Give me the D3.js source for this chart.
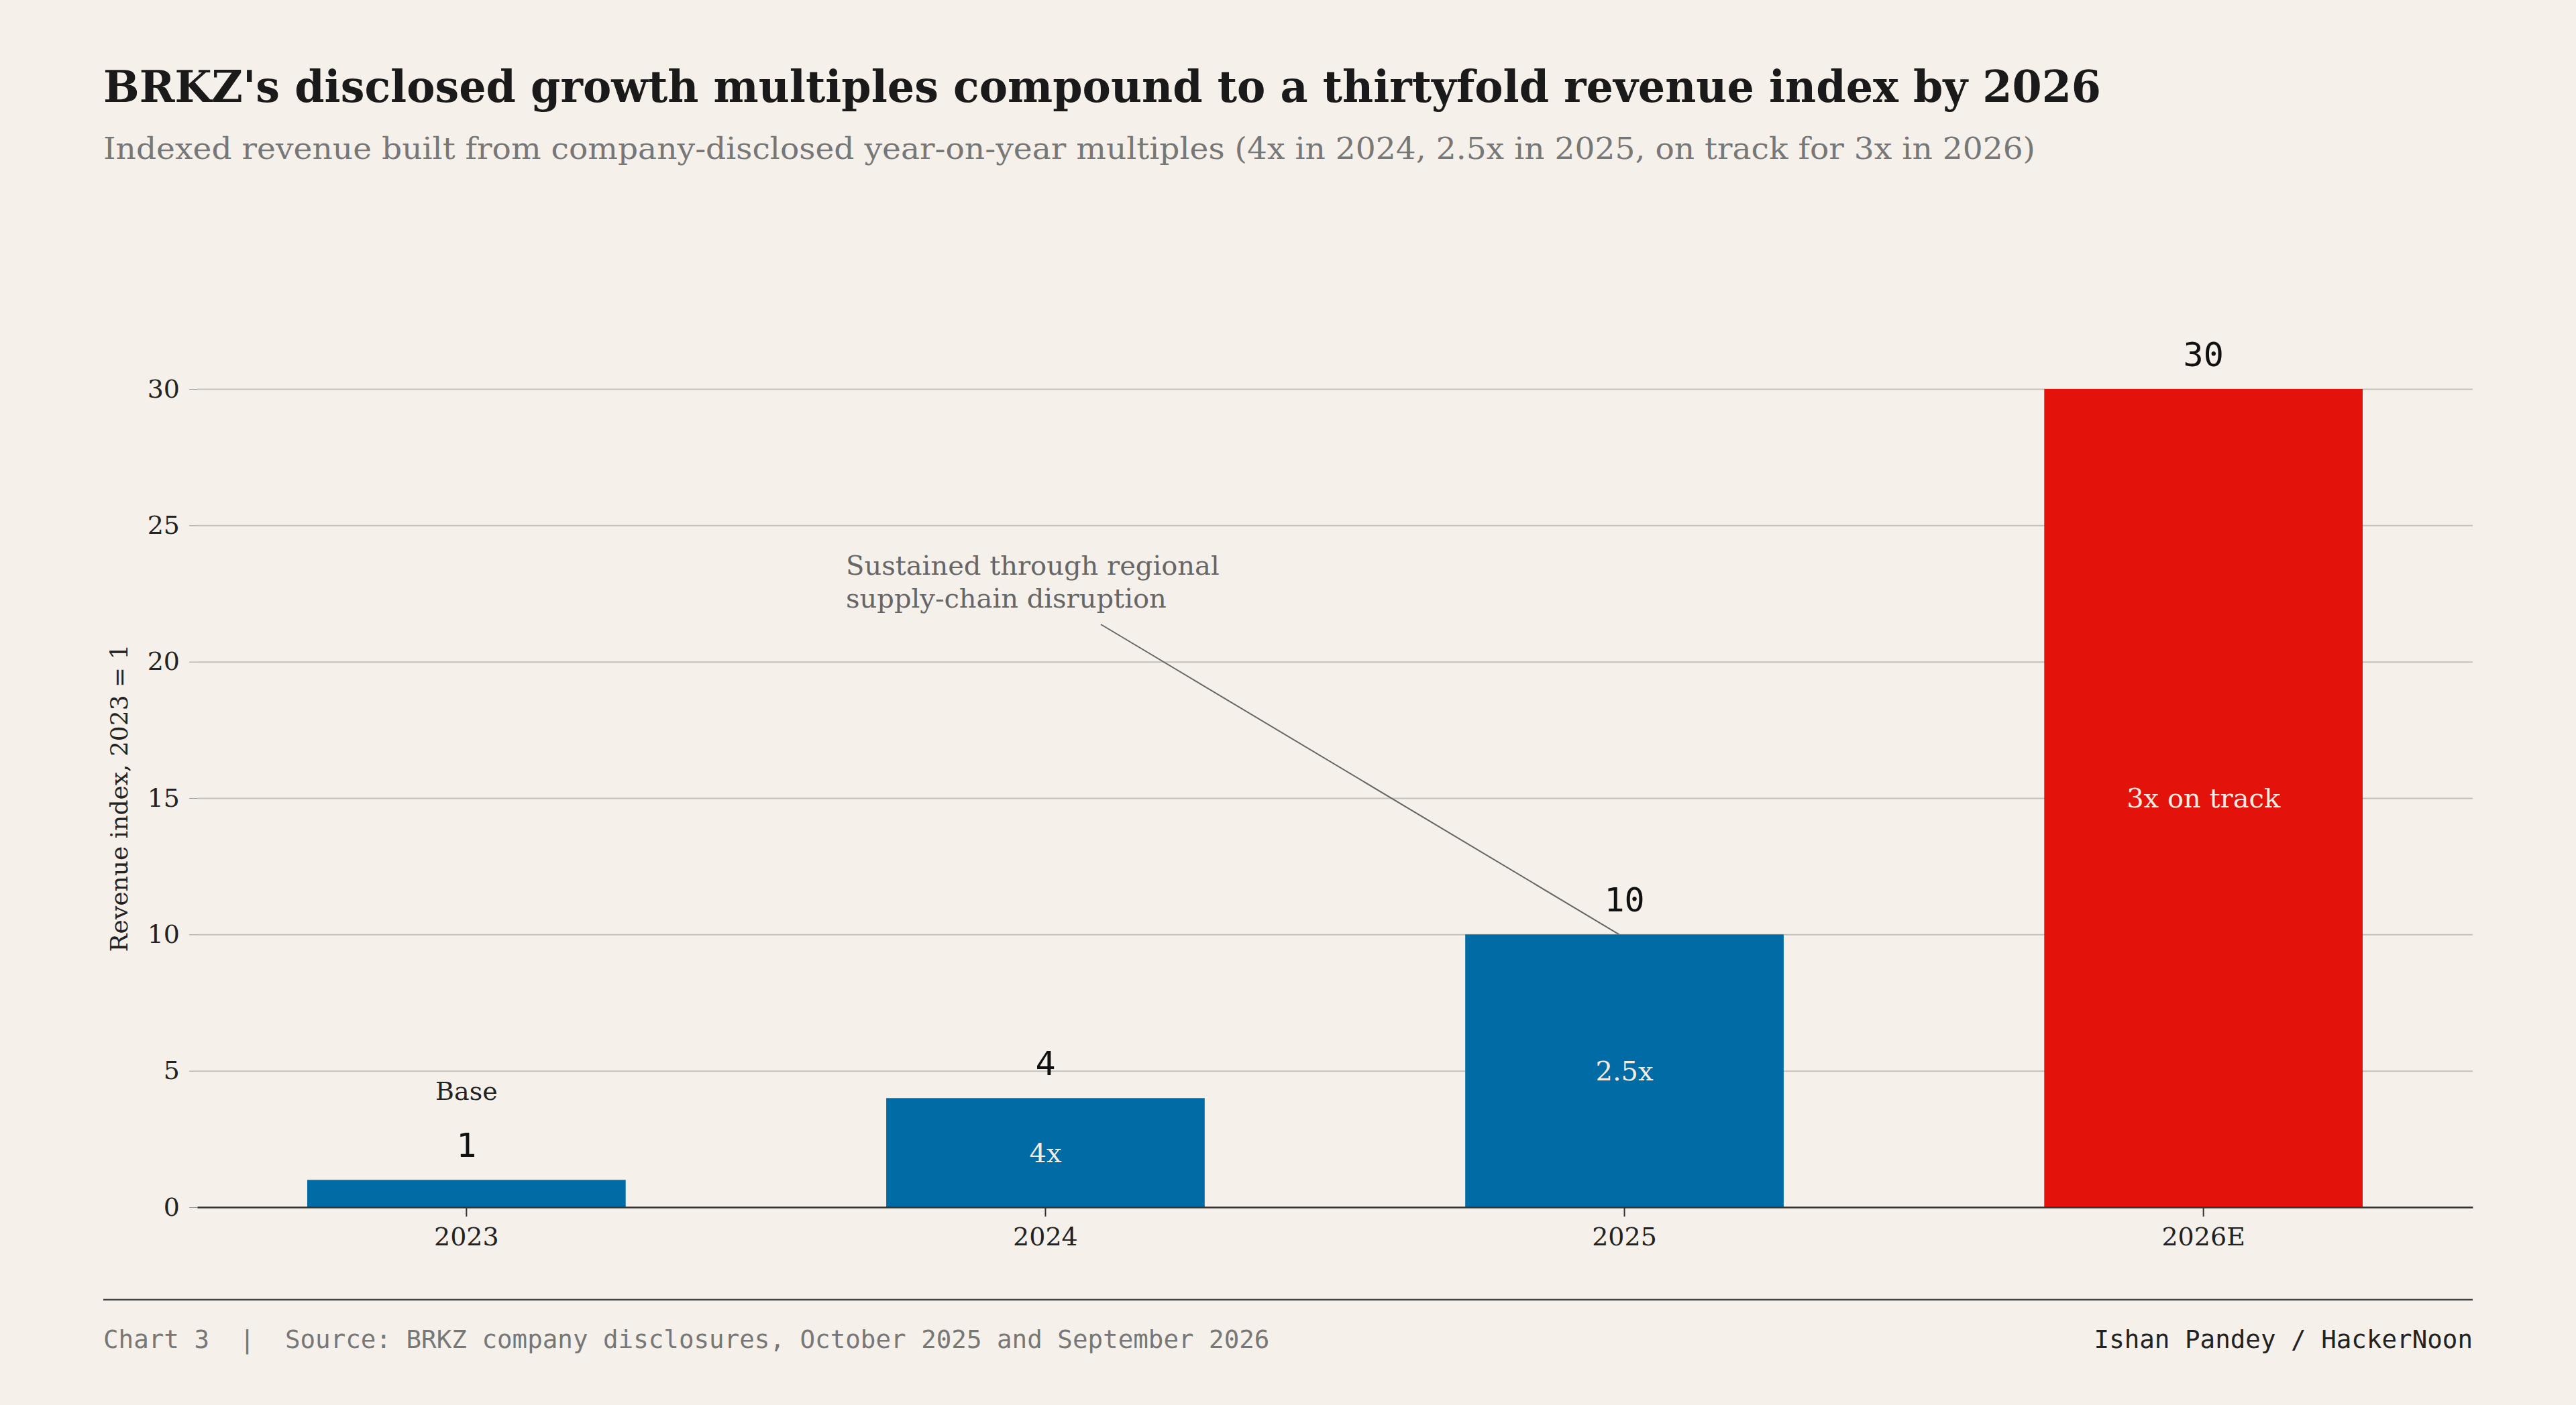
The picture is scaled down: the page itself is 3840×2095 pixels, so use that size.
<!DOCTYPE html>
<html><head><meta charset="utf-8">
<script src="https://cdn.jsdelivr.net/npm/d3@7"></script>
<style>
body{margin:0;background:#f5f0ea;}
svg{display:block;}
</style></head>
<body>
<script>
var categories = ['2023', '2024', '2025', '2026E'];
var values = [1, 4, 10, 30];
var multiples = ['', '4x', '2.5x', '3x on track'];
var colors = ['#006ba4', '#006ba4', '#006ba4', '#e3120b'];
var yTicks = [0, 5, 10, 15, 20, 25, 30];

var W = 3840, H = 2095;
var serif = '"DejaVu Serif", serif', mono = '"DejaVu Sans Mono", monospace';
var svg = d3.select('body').append('svg').attr('width', W).attr('height', H);
svg.append('rect').attr('width', W).attr('height', H).attr('fill', '#f5f0ea');

svg.append('text').attr('x', 154).attr('y', 152).attr('font-family', serif)
    .attr('font-weight', 'bold').attr('font-size', 66).attr('fill', '#1a1a1a')
    .attr('textLength', 2978).attr('lengthAdjust', 'spacingAndGlyphs')
    .text("BRKZ's disclosed growth multiples compound to a thirtyfold revenue index by 2026");
svg.append('text').attr('x', 154).attr('y', 237).attr('font-family', serif)
    .attr('font-size', 44).attr('fill', '#777')
    .attr('textLength', 2880).attr('lengthAdjust', 'spacingAndGlyphs')
    .text('Indexed revenue built from company-disclosed year-on-year multiples (4x in 2024, 2.5x in 2025, on track for 3x in 2026)');

var plotLeft = 294, plotRight = 3686, plotTop = 580, plotBottom = 1800;
var x = d3.scaleBand().domain(categories).range([plotLeft, plotRight]).paddingInner(0.45).paddingOuter(0.19);
var y = d3.scaleLinear().domain([0, 30]).range([plotBottom, plotTop]);

var gy = svg.append('g').attr('transform', 'translate(' + plotLeft + ',0)')
    .call(d3.axisLeft(y).tickValues(yTicks).tickSize(12).tickPadding(14));
gy.select('.domain').remove();
gy.selectAll('.tick line').attr('stroke', '#999');
gy.selectAll('.tick').append('line').attr('x1', 0).attr('x2', plotRight - plotLeft)
    .attr('stroke', '#c4c0ba').attr('stroke-width', 2);
gy.selectAll('.tick text').attr('font-family', serif).attr('font-size', 38).attr('fill', '#222');

svg.append('text').attr('transform', 'translate(190,' + (plotTop + plotBottom) / 2 + ') rotate(-90)')
    .attr('text-anchor', 'middle').attr('font-family', serif).attr('font-size', 36).attr('fill', '#222')
    .text('Revenue index, 2023 = 1');

svg.selectAll('.bar').data(values).enter().append('rect')
    .attr('x', function (d, i) { return x(categories[i]); })
    .attr('width', x.bandwidth())
    .attr('y', function (d) { return y(d); })
    .attr('height', function (d) { return plotBottom - y(d); })
    .attr('fill', function (d, i) { return colors[i]; });

var gx = svg.append('g').attr('transform', 'translate(0,' + plotBottom + ')')
    .call(d3.axisBottom(x).tickSize(14).tickSizeOuter(0).tickPadding(16));
gx.select('.domain').attr('stroke', '#333').attr('stroke-width', 2.5);
gx.selectAll('.tick line').attr('stroke', '#333').attr('stroke-width', 2);
gx.selectAll('.tick text').attr('font-family', serif).attr('font-size', 38).attr('fill', '#222');

svg.selectAll('.val').data(values).enter().append('text')
    .attr('x', function (d, i) { return x(categories[i]) + x.bandwidth() / 2; })
    .attr('y', function (d) { return y(d) - 34; })
    .attr('text-anchor', 'middle').attr('font-family', mono).attr('font-size', 50).attr('fill', '#111')
    .text(function (d) { return d; });

svg.selectAll('.mult').data(values).enter().append('text')
    .attr('x', function (d, i) { return x(categories[i]) + x.bandwidth() / 2; })
    .attr('y', function (d) { return y(d / 2) + 14; })
    .attr('text-anchor', 'middle').attr('font-family', serif).attr('font-size', 40).attr('fill', '#f3ebe2')
    .text(function (d, i) { return multiples[i]; });

svg.append('text').attr('x', x('2023') + x.bandwidth() / 2).attr('y', y(values[0]) - 119)
    .attr('text-anchor', 'middle').attr('font-family', serif).attr('font-size', 38).attr('fill', '#222')
    .text('Base');

// annotation
var ax = x('2025') + x.bandwidth() / 2 - 8, ay = y(values[2]);
svg.append('line').attr('x1', 1641).attr('y1', 931).attr('x2', ax).attr('y2', ay)
    .attr('stroke', '#666').attr('stroke-width', 2);
var note = svg.append('text').attr('font-family', serif).attr('font-size', 40).attr('fill', '#666');
note.append('tspan').attr('x', 1261).attr('y', 857).text('Sustained through regional');
note.append('tspan').attr('x', 1261).attr('y', 906).text('supply-chain disruption');

svg.append('line').attr('x1', 154).attr('x2', 3686).attr('y1', 1938).attr('y2', 1938)
    .attr('stroke', '#444').attr('stroke-width', 2.5);
svg.append('text').attr('x', 154).attr('y', 2010).attr('font-family', mono).attr('font-size', 37.5)
    .attr('fill', '#777').attr('xml:space', 'preserve')
    .text('Chart 3  |  Source: BRKZ company disclosures, October 2025 and September 2026');
svg.append('text').attr('x', 3686).attr('y', 2010).attr('text-anchor', 'end').attr('font-family', mono)
    .attr('font-size', 37.5).attr('fill', '#222').text('Ishan Pandey / HackerNoon');
</script>
</body></html>
